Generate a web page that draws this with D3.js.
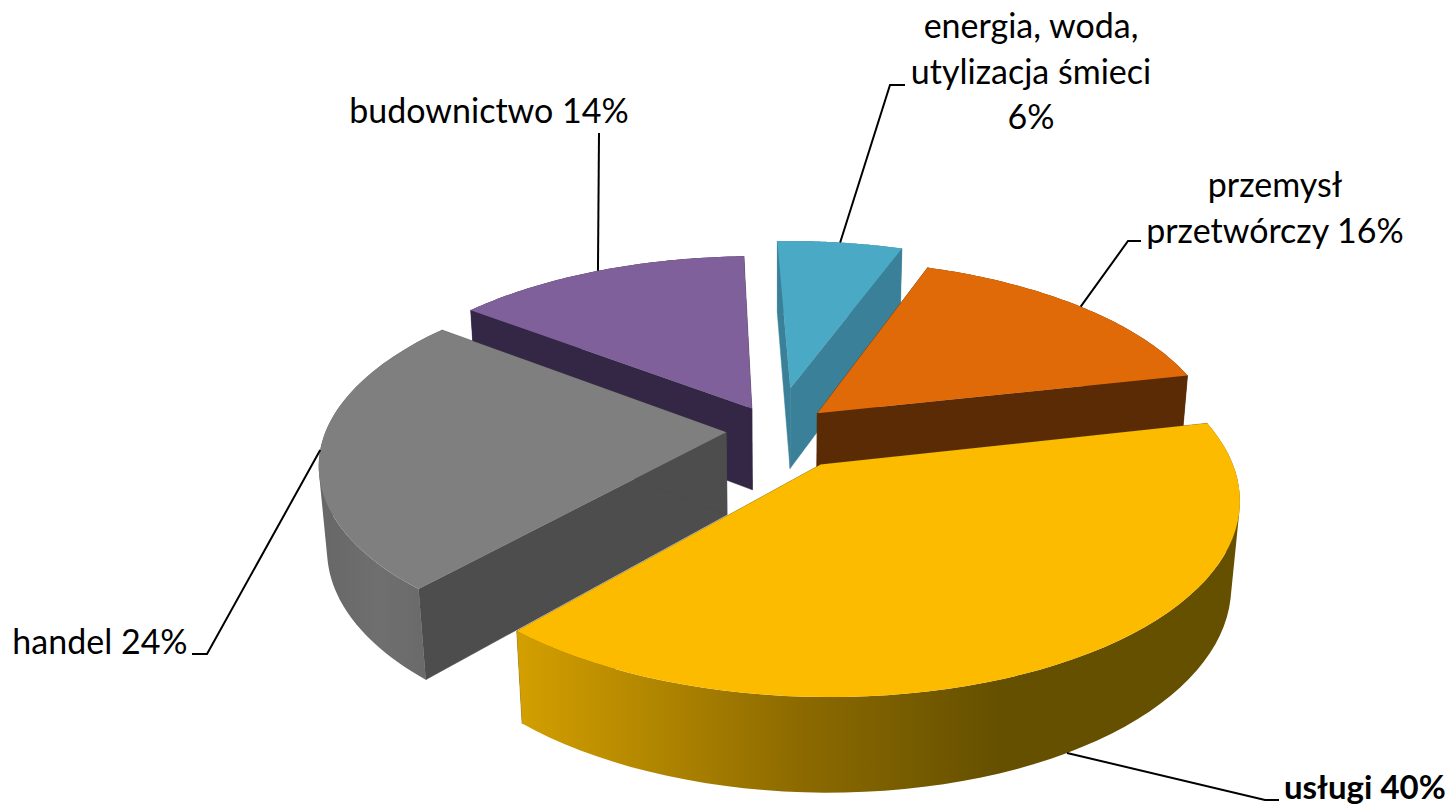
<html>
	<head>
		<meta charset="utf-8">
		<title></title>
		<script type="text/javascript" src="https://d3js.org/d3.v7.min.js"></script>
		<style>
			html, body { margin: 0; padding: 0; background: #fff; overflow: hidden; }
			text { font-family: Lato, "Open Sans", sans-serif; fill: #000; }
		</style>
	</head>
	<body>
		<div></div>
		<script>
			//Chart data
			var categories = ["usługi", "handel", "budownictwo", "energia", "przemysł"];
			var shares = [40, 24, 14, 6, 16];

			//Style and layout, in the same order as categories
			var topColors = ["#fdbb00", "#7f7f7f", "#7f609b", "#4aa9c4", "#e16a08"];
			var sideColors = ["#6b5200", "#4d4d4d", "#332745", "#3a8098", "#5a2b05"];
			var rimColors = ["url(#rimYellow)", "url(#rimGray)", "#332745", "#3a8098", "#5a2b05"];
			var explode = [0.213, 0.125, 0.135, 0.24, 0.14];
			var drawOrder = [3, 2, 4, 1, 0];

			//Label text lines, anchor of text, text position and the elbow of the leader
			var labelLines = [
				["usługi 40%"],
				["handel 24%"],
				["budownictwo 14%"],
				["energia, woda,", "utylizacja śmieci", "6%"],
				["przemysł", "przetwórczy 16%"]
			];
			var labelX = [1284, 100, 489, 1031, 1275];
			var labelY = [799, 654, 123, 38, 197];
			var leaderElbows = [
				[[1265, 800], [1279, 800]],
				[[207, 654], [192, 654]],
				[[599, 133]],
				[[890, 85], [905, 85]],
				[[1128, 241], [1141, 241]]
			];
			var leaderDepth = [1, 0, 0, 0, 0];

			//Dimensions of the canvas
			var width = 1453;
			var height = 808;

			//Projection of the pie plane onto the screen
			var cx = 776, cy = 430;
			var radiusX = 400, radiusY = 183, depth = 84;
			var perspective = 0.16, perspectiveDepth = 0.018;
			var startAngle = 77.3 * Math.PI / 180;

			function project(x, y, z){
				var w = 1 - perspective * y + perspectiveDepth * z;
				return [cx + radiusX * x / w, cy + (radiusY * y + depth * z) / w];
			}

			var canvas = d3.select("div").append("svg")
							.attr("width", width)
							.attr("height", height);

			var defs = canvas.append("defs");
			var yellowScale = d3.scaleLinear().domain([515, 800, 1000]).range(["#d4a000", "#8c6a00", "#655000"]);
			var grayScale = d3.scaleLinear().domain([320, 380, 425]).range(["#676767", "#6f6f6f", "#6a6a6a"]);

			function addGradient(id, scale){
				var dom = scale.domain();
				defs.append("linearGradient")
					.attr("id", id)
					.attr("gradientUnits", "userSpaceOnUse")
					.attr("x1", dom[0]).attr("x2", dom[dom.length - 1])
					.attr("y1", 0).attr("y2", 0)
					.selectAll("stop").data(dom).enter().append("stop")
					.attr("offset", function(d){ return (d - dom[0]) / (dom[dom.length - 1] - dom[0]); })
					.attr("stop-color", function(d){ return scale(d); });
			}
			addGradient("rimYellow", yellowScale);
			addGradient("rimGray", grayScale);

			var arcs = d3.pie().sort(null).startAngle(startAngle).endAngle(startAngle + 2 * Math.PI)(shares);
			var line = d3.line();

			//Point of the rim of a slice, d3 angle is clockwise from north
			function offset(i){
				var mid = (arcs[i].startAngle + arcs[i].endAngle) / 2;
				return [Math.sin(mid) * explode[i], -Math.cos(mid) * explode[i]];
			}
			function rimPoint(i, angle, z){
				var o = offset(i);
				return project(o[0] + Math.sin(angle), o[1] - Math.cos(angle), z);
			}
			function apexPoint(i, z){
				var o = offset(i);
				return project(o[0], o[1], z);
			}
			function rimPath(i, z){
				return d3.range(0, 61).map(function(k){
					return rimPoint(i, arcs[i].startAngle + (arcs[i].endAngle - arcs[i].startAngle) * k / 60, z);
				});
			}

			//Outer wall as one path of small quads that all wind the same way,
			//so that the fill also covers the part out to the silhouette
			function wallPath(top, bottom){
				var d = "";
				d3.range(0, top.length - 1).forEach(function(k){
					var quad = [top[k], top[k + 1], bottom[k + 1], bottom[k]];
					if(d3.polygonArea(quad) < 0) quad.reverse();
					d += line(quad) + "Z";
				});
				return d;
			}

			var pie_group = canvas.append("g");

			drawOrder.forEach(function(i){
				var g = pie_group.append("g");
				var top = rimPath(i, 0);
				var bottom = rimPath(i, 1);

				//The two flat faces of the cut
				[arcs[i].startAngle, arcs[i].endAngle].forEach(function(a){
					g.append("path")
						.attr("d", line([apexPoint(i, 0), rimPoint(i, a, 0), rimPoint(i, a, 1), apexPoint(i, 1)]) + "Z")
						.attr("fill", sideColors[i])
						.attr("stroke", sideColors[i])
						.attr("stroke-width", 0.5);
				});

				//Outer wall
				g.append("path")
					.attr("d", wallPath(top, bottom))
					.attr("fill", rimColors[i]);

				//Top of the slice
				g.append("path")
					.attr("d", line([apexPoint(i, 0)].concat(top)) + "Z")
					.attr("fill", topColors[i]);
			});

			//Leader lines go from the middle of the rim to the label
			var leaders = canvas.append("g");
			categories.forEach(function(c, i){
				var mid = (arcs[i].startAngle + arcs[i].endAngle) / 2;
				leaders.append("path")
					.attr("d", line([rimPoint(i, mid, leaderDepth[i])].concat(leaderElbows[i])))
					.attr("fill", "none")
					.attr("stroke", "#000")
					.attr("stroke-width", 2);
			});

			//Labels
			var labels = canvas.append("g");
			categories.forEach(function(c, i){
				var t = labels.append("text")
					.attr("text-anchor", i == 0 ? "start" : "middle")
					.attr("font-size", i == 0 ? 33 : 34)
					.attr("font-weight", i == 0 ? "bold" : "normal");
				labelLines[i].forEach(function(s, k){
					t.append("tspan")
						.attr("x", labelX[i])
						.attr("y", labelY[i] + k * 45.5)
						.text(s);
				});
			});
		</script>
	</body>
</html>
